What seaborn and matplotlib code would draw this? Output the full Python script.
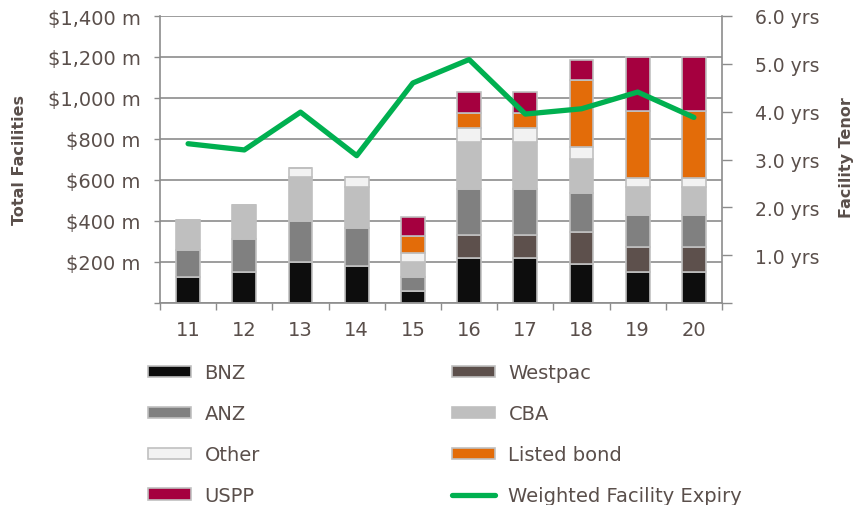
import numpy as np
import matplotlib
matplotlib.use('Agg')
import matplotlib.pyplot as plt
from matplotlib.patches import Patch
from matplotlib.lines import Line2D
import seaborn as sns

# Chart data
years = ['11', '12', '13', '14', '15', '16', '17', '18', '19', '20']
bnz = [125, 150, 200, 180, 60, 220, 220, 188, 152, 152]
westpac = [0, 0, 0, 0, 0, 110, 110, 157, 123, 123]
anz = [135, 160, 200, 187, 66, 224, 224, 192, 156, 156]
cba = [145, 170, 215, 197, 74, 231, 231, 166, 136, 136]
other = [0, 0, 45, 50, 46, 69, 69, 58, 44, 44]
listed_bond = [0, 0, 0, 0, 79, 74, 74, 326, 328, 328]
uspp = [0, 0, 0, 0, 96, 101, 101, 100, 259, 260]
expiry = [3.33, 3.20, 3.99, 3.08, 4.60, 5.09, 3.95, 4.06, 4.41, 3.88]

series = [
    ('BNZ', bnz, '#0d0d0d'),
    ('Westpac', westpac, '#5d504c'),
    ('ANZ', anz, '#808080'),
    ('CBA', cba, '#bfbfbf'),
    ('Other', other, '#f2f2f2'),
    ('Listed bond', listed_bond, '#e36c09'),
    ('USPP', uspp, '#a5003f'),
]
line_color = '#00b050'
text_color = '#5a4f4b'
grid_color = '#8c8c8c'
edge_color = '#c0c0c0'

sns.set_theme(style='white')
plt.rcParams['font.family'] = ['DejaVu Sans']

fig = plt.figure(figsize=(8.56, 5.06), dpi=100)
ax = fig.add_axes([160 / 856, 1 - 304 / 506, 562 / 856, 287 / 506])

# Stacked bars
bottom = np.zeros(len(years))
for name, vals, col in series:
    sns.barplot(x=years, y=vals, bottom=bottom, color=col, saturation=1,
                edgecolor=edge_color, linewidth=1.2, width=0.42,
                errorbar=None, ax=ax)
    bottom = bottom + np.array(vals)

ax.set_ylim(0, 1400)
ax.set_xlim(-0.5, 9.5)
ax.set_yticks(range(0, 1401, 200))
ax.set_yticklabels(['' if v == 0 else f'${v:,} m' for v in range(0, 1401, 200)])
ax.yaxis.grid(True, color=grid_color, linewidth=1.2)
ax.set_axisbelow(True)
ax.set_xlabel('')
ax.set_ylabel('')
ax.tick_params(axis='y', colors=grid_color, labelcolor=text_color, labelsize=14,
               direction='out', length=4, width=1, left=True, pad=10)
ax.tick_params(axis='x', which='major', length=0, labelcolor=text_color,
               labelsize=14, pad=12)
ax.set_xticks(np.arange(-0.5, 10, 1), minor=True)
ax.tick_params(axis='x', which='minor', direction='out', length=5,
               color=grid_color, width=1, bottom=True)
for s in ['left', 'bottom']:
    ax.spines[s].set_color(grid_color)
    ax.spines[s].set_linewidth(1.2)
ax.spines['top'].set_visible(False)
ax.spines['right'].set_visible(False)

# Weighted facility expiry line on secondary axis
ax2 = ax.twinx()
sns.lineplot(x=np.arange(len(years)), y=expiry, color=line_color,
             linewidth=3.8, ax=ax2)
ax2.set_xlim(-0.5, 9.5)
ax2.set_ylim(0, 6)
ax2.set_yticks(np.arange(0, 6.1, 1))
ax2.set_yticklabels(['' if v == 0 else f'{v:.1f} yrs' for v in np.arange(0, 6.1, 1)])
ax2.tick_params(axis='y', colors=grid_color, labelcolor=text_color, labelsize=13.5,
                direction='out', length=7, width=1, right=True, pad=17)
ax2.set_ylabel('')
ax2.grid(False)
ax2.spines['right'].set_color(grid_color)
ax2.spines['right'].set_linewidth(1.2)
for s in ['top', 'left', 'bottom']:
    ax2.spines[s].set_visible(False)

fig.text(20 / 856, 1 - 160 / 506, 'Total Facilities', rotation=90, fontsize=11.5,
         fontweight='bold', color=text_color, ha='center', va='center')
fig.text(846 / 856, 1 - 158 / 506, 'Facility Tenor', rotation=90, fontsize=11.5,
         fontweight='bold', color=text_color, ha='center', va='center')

# Legend in two columns
def patch(name):
    col = dict((n, c) for n, _, c in series)[name]
    return Patch(facecolor=col, edgecolor=edge_color, linewidth=1.2, label=name)

col1 = [patch('BNZ'), patch('ANZ'), patch('Other'), patch('USPP')]
col2 = [patch('Westpac'), patch('CBA'), patch('Listed bond'),
        Line2D([0], [0], color=line_color, linewidth=3.8,
               label='Weighted Facility Expiry')]
leg_kw = dict(loc='upper left', frameon=False, fontsize=14, handlelength=2.2,
              handleheight=0.5, handletextpad=0.7, labelspacing=1.13,
              borderpad=0, borderaxespad=0, labelcolor=text_color)
fig.legend(handles=col1, bbox_to_anchor=(148 / 856, 1 - 364 / 506), **leg_kw)
fig.legend(handles=col2, bbox_to_anchor=(452 / 856, 1 - 364 / 506), **leg_kw)

fig.savefig('out.png', dpi=100)
